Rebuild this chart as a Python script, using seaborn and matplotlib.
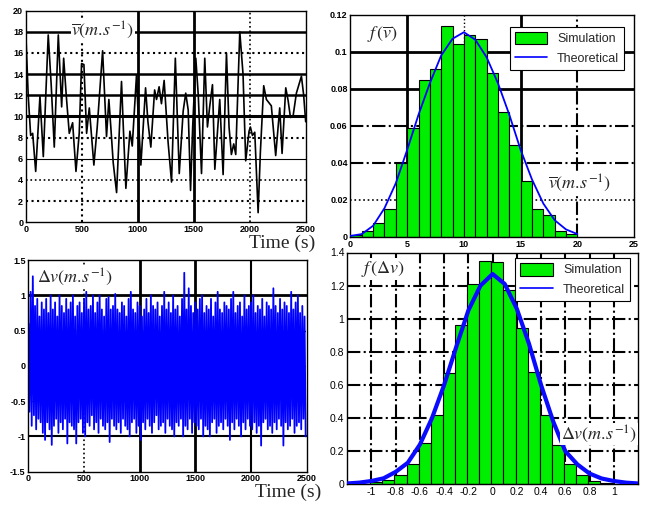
import numpy as np
import pandas as pd
import matplotlib
matplotlib.use("Agg")
import matplotlib.pyplot as plt
import seaborn as sns
from matplotlib.patches import Patch
from matplotlib.lines import Line2D

# mean wind speed time series
v_time = [0, 20, 42, 60, 87, 125, 155, 199, 225, 253, 289, 319, 337, 360, 387, 417,
          447, 476, 497, 518, 542, 566, 607, 637, 685, 720, 741, 759, 780, 810, 854,
          870, 893, 929, 950, 988, 1000, 1027, 1069, 1090, 1116, 1150, 1167, 1190, 1211,
          1235, 1270, 1301, 1335, 1370, 1405, 1428, 1450, 1471, 1490, 1518, 1540,
          1569, 1598, 1622, 1643, 1667, 1688, 1732, 1762, 1792, 1815, 1836, 1857, 1875,
          1911, 1940, 1964, 1994, 2006, 2024, 2045, 2075, 2095, 2125, 2149, 2193, 2232,
          2268, 2289, 2322, 2343, 2364, 2387, 2417, 2462, 2482, 2500]
v_mean = [17.5, 12.0, 8.2, 8.4, 4.8, 11.9, 6.2, 17.7, 13.1, 7.1, 17.7, 10.9, 15.5, 12.0,
          8.4, 9.4, 4.8, 8.4, 15.0, 14.9, 8.4, 10.8, 5.4, 9.0, 16.2, 8.1, 11.6, 8.9, 5.6,
          2.8, 13.3, 9.0, 3.2, 8.6, 7.2, 13.9, 10.8, 5.4, 12.7, 9.5, 7.1, 12.5, 11.6,
          12.8, 11.2, 13.4, 7.6, 3.8, 15.5, 4.6, 10.5, 12.2, 10.6, 3.0, 9.0, 15.5, 12.0,
          4.6, 15.5, 9.0, 11.0, 13.0, 5.0, 11.6, 4.5, 16.0, 9.0, 6.4, 7.4, 6.4, 18.0,
          14.0, 5.8, 8.6, 9.0, 8.2, 8.5, 0.9, 6.6, 12.9, 11.6, 11.0, 6.3, 10.8, 6.5,
          12.7, 11.5, 9.9, 10.0, 12.2, 13.8, 12.0, 9.5]

# turbulent component: upper and lower swings every 20 s
dv_upper = [0.6, 1.05, 1.27, 0.85, 0.95, 0.7, 0.9, 0.8, 0.95, 0.75,
            1.0, 0.8, 0.9, 0.7, 1.0, 0.85, 0.75, 0.95, 0.8, 0.9,
            1.0, 0.7, 0.85, 0.9, 0.75, 0.95, 1.05, 0.8, 0.85, 1.0,
            0.75, 0.9, 1.0, 0.8, 0.7, 0.95, 0.98, 0.8, 0.85, 1.02,
            0.8, 0.75, 0.9, 0.85, 0.7, 0.95, 1.05, 0.8, 0.75, 0.9,
            0.85, 0.7, 0.8, 0.95, 0.75, 1.0, 0.85, 0.8, 0.9, 0.7,
            0.85, 1.05, 0.8, 0.9, 0.75, 1.0, 0.8, 0.85, 0.7, 0.95,
            1.32, 0.8, 1.1, 0.85, 0.75, 0.9, 0.8, 0.95, 1.0, 0.75,
            0.85, 0.8, 0.95, 0.7, 0.9, 1.05, 0.8, 0.75, 0.9, 0.85,
            0.8, 0.95, 1.05, 0.75, 0.85, 0.9, 0.7, 1.0, 0.8, 0.85,
            0.9, 1.0, 0.75, 0.85, 0.8, 0.95, 0.7, 0.9, 0.85, 0.8,
            1.1, 0.85, 0.75, 0.95, 0.8, 0.9, 0.85, 0.75, 1.05, 0.8,
            0.9, 1.0, 0.75, 0.85, 0.7]
dv_lower = [-0.65, -0.85, -0.7, -0.9, -0.75, -0.8, -0.95, -1.05, -0.8, -0.9,
            -1.12, -0.85, -0.75, -0.95, -0.8, -0.9, -0.75, -1.1, -0.8, -0.85,
            -0.9, -1.1, -0.8, -0.75, -0.95, -1.0, -0.8, -0.85, -0.7, -0.9,
            -0.8, -0.95, -0.75, -0.85, -0.9, -0.8, -1.08, -0.75, -0.85, -0.9,
            -0.8, -0.95, -0.75, -0.85, -0.9, -1.0, -0.8, -0.75, -0.95, -0.85,
            -1.05, -0.8, -0.9, -0.75, -0.85, -0.95, -0.8, -0.7, -0.9, -0.85,
            -0.8, -0.95, -0.75, -0.85, -0.9, -1.0, -0.8, -0.85, -0.75, -1.0,
            -0.85, -0.9, -0.75, -0.95, -0.8, -0.85, -0.9, -0.75, -1.0, -0.85,
            -0.9, -1.0, -0.8, -0.75, -0.95, -0.85, -0.8, -0.9, -0.75, -0.85,
            -1.05, -0.8, -0.9, -0.75, -0.85, -1.0, -0.8, -0.9, -0.75, -0.85,
            -0.9, -0.8, -0.95, -0.85, -1.13, -0.8, -0.75, -0.9, -0.85, -0.95,
            -0.8, -0.9, -0.75, -0.85, -1.13, -0.8, -0.9, -0.85, -0.75, -0.95,
            -0.85, -0.8, -0.9, -0.75, -1.0]
dv_step = 10

# histogram of mean speed
vbar_edges = list(range(0, 21))
vbar_hist = [0.001, 0.003, 0.0077, 0.015, 0.040, 0.0587, 0.0847, 0.0908, 0.114, 0.104,
             0.1088, 0.107, 0.0883, 0.0674, 0.0494, 0.030, 0.0148, 0.012, 0.003, 0.0018]
vbar_theo_x = list(range(0, 21))
vbar_theo = [0.0005, 0.0015, 0.006, 0.0155, 0.029, 0.047, 0.066, 0.083, 0.098, 0.107,
             0.1105, 0.1065, 0.097, 0.083, 0.066, 0.047, 0.031, 0.018, 0.009, 0.004, 0.0015]

# histogram of turbulent component
dv_edges = [-1.11, -1.01, -0.91, -0.81, -0.71, -0.61, -0.51, -0.41, -0.31, -0.21, -0.11,
            -0.01, 0.09, 0.19, 0.29, 0.39, 0.49, 0.59, 0.69, 0.79, 0.89, 0.99]
dv_hist = [0.004, 0.012, 0.028, 0.055, 0.12, 0.25, 0.42, 0.67, 0.965, 1.21, 1.35,
           1.34, 1.175, 0.945, 0.68, 0.42, 0.24, 0.125, 0.055, 0.022, 0.006]
dv_theo_x = [-1.2, -1.1, -1.0, -0.9, -0.8, -0.7, -0.6, -0.5, -0.4, -0.3, -0.2, -0.1, 0.0,
             0.1, 0.2, 0.3, 0.4, 0.5, 0.6, 0.7, 0.8, 0.9, 1.0, 1.1, 1.2]
dv_theo = [0.005, 0.01, 0.02, 0.036, 0.075, 0.13, 0.24, 0.40, 0.6, 0.83, 1.05, 1.2, 1.27,
           1.21, 1.06, 0.85, 0.6, 0.38, 0.2, 0.12, 0.065, 0.035, 0.02, 0.01, 0.005]

sns.set_style("white")
plt.rcParams['font.family'] = ['Liberation Sans', 'DejaVu Sans']
plt.rcParams['mathtext.fontset'] = 'stix'

W, H = 649, 505
fig = plt.figure(figsize=(W / 100, H / 100), dpi=100)
ax_tl = fig.add_axes([0.040, 0.560, 0.431, 0.419])
ax_tr = fig.add_axes([0.540, 0.531, 0.437, 0.440])
ax_bl = fig.add_axes([0.0437, 0.066, 0.429, 0.419])
ax_br = fig.add_axes([0.535, 0.041, 0.448, 0.459])


def draw_grid(ax, vlines, hlines):
    for x, ls, lw in vlines:
        ax.axvline(x, color='black', ls=ls, lw=lw, zorder=0.5)
    for y, ls, lw in hlines:
        ax.axhline(y, color='black', ls=ls, lw=lw, zorder=0.5)


def style_axis(ax, size=6.5, weight='bold'):
    for s in ax.spines.values():
        s.set_color('black')
        s.set_linewidth(1)
    ax.tick_params(direction='in', length=3, labelsize=size, pad=2, colors='black')
    for lab in ax.get_xticklabels() + ax.get_yticklabels():
        lab.set_fontweight(weight)
    ax.set_xlabel('')
    ax.set_ylabel('')


def label(x, y, s, size=13, bg=True, va='center', **kw):
    box = dict(facecolor='white', edgecolor='none', pad=0.5) if bg else None
    fig.text(x / W, 1 - y / H, s, fontsize=size, ha='center', va=va, bbox=box, **kw)


# top left: mean speed series
sns.lineplot(x=v_time, y=v_mean, ax=ax_tl, color='black', lw=1.2, estimator=None, sort=False)
ax_tl.set_xlim(0, 2500)
ax_tl.set_ylim(0, 20)
ax_tl.set_xticks(range(0, 2501, 500))
ax_tl.set_yticks(range(0, 21, 2))
draw_grid(ax_tl,
          [(500, ':', 1.5), (1000, '-', 2), (1500, '-', 2), (2000, ':', 1.2)],
          [(2, ':', 1.5), (4, ':', 1.2), (6, '-', 0.8), (8, ':', 1.5), (10, '-', 2.2),
           (12, '-', 1.8), (14, '-', 1.8), (16, ':', 1.5), (18, '-', 1.8)])
style_axis(ax_tl)

# bottom left: turbulent component
dv = np.column_stack([dv_upper, dv_lower]).ravel()
dv_time = np.arange(len(dv)) * dv_step
sns.lineplot(x=dv_time, y=dv, ax=ax_bl, color='#0000ff', lw=1.3, estimator=None, sort=False, zorder=2)
ax_bl.set_xlim(0, 2500)
ax_bl.set_ylim(-1.5, 1.5)
ax_bl.set_xticks(range(0, 2501, 500))
ax_bl.set_yticks([-1.5, -1, -0.5, 0, 0.5, 1, 1.5])
ax_bl.set_yticklabels(['-1.5', '-1', '-0.5', '0', '0.5', '1', '1.5'])
draw_grid(ax_bl,
          [(500, ':', 1.2), (1000, '-', 2), (1500, '-', 2), (2000, '-', 1.5)],
          [(-1, '-', 1.5), (-0.5, ':', 1), (0, ':', 1), (0.5, ':', 1), (1, '-', 2)])
style_axis(ax_bl)

# top right: histogram of mean speed
green = '#00ee00'
vbar_centers = [e + 0.5 for e in vbar_edges[:-1]]
sns.histplot(x=vbar_centers, weights=vbar_hist, bins=vbar_edges, ax=ax_tr,
             color=green, edgecolor='black', linewidth=0.8, alpha=1, zorder=2)
sns.lineplot(x=vbar_theo_x, y=vbar_theo, ax=ax_tr, color='#0000ff', lw=1.3, zorder=3)
ax_tr.set_xlim(0, 25)
ax_tr.set_ylim(0, 0.12)
ax_tr.set_xticks(range(0, 26, 5))
ax_tr.set_yticks([0, 0.02, 0.04, 0.06, 0.08, 0.1, 0.12])
ax_tr.set_yticklabels(['0', '0.02', '0.04', '0.06', '0.08', '0.1', '0.12'])
draw_grid(ax_tr,
          [(5, '-', 2), (10, ':', 1), (15, '-', 2), (20, '-.', 1.5)],
          [(0.02, ':', 1.2), (0.04, '-.', 1.5), (0.06, '-.', 1.5), (0.08, '-', 2), (0.1, '-', 2)])
style_axis(ax_tr)

# bottom right: histogram of turbulent component
dv_centers = [(a + b) / 2 for a, b in zip(dv_edges[:-1], dv_edges[1:])]
sns.histplot(x=dv_centers, weights=dv_hist, bins=dv_edges, ax=ax_br,
             color=green, edgecolor='black', linewidth=0.8, alpha=1, zorder=2)
sns.lineplot(x=dv_theo_x, y=dv_theo, ax=ax_br, color='#0a0aff', lw=3, zorder=3)
ax_br.set_xlim(-1.2, 1.2)
ax_br.set_ylim(0, 1.4)
xt = [-1, -0.8, -0.6, -0.4, -0.2, 0, 0.2, 0.4, 0.6, 0.8, 1]
ax_br.set_xticks(xt)
ax_br.set_xticklabels(['-1', '-0.8', '-0.6', '-0.4', '-0.2', '0', '0.2', '0.4', '0.6', '0.8', '1'])
yt = [0, 0.2, 0.4, 0.6, 0.8, 1, 1.2, 1.4]
ax_br.set_yticks(yt)
ax_br.set_yticklabels(['0', '0.2', '0.4', '0.6', '0.8', '1', '1.2', '1.4'])
draw_grid(ax_br, [(x, '-.', 1.5) for x in xt], [(y, '-.', 1.5) for y in yt[1:-1]])
style_axis(ax_br, size=7.5, weight='normal')

# legends
handles = [Patch(facecolor=green, edgecolor='black', linewidth=0.8),
           Line2D([], [], color='#0000ff', lw=1.2)]
for ax, anchor in [(ax_tr, (0.965, 0.946)), (ax_br, (0.973, 0.977))]:
    leg = ax.legend(handles, ['Simulation', 'Theoretical'], loc='upper right',
                    bbox_to_anchor=anchor, borderaxespad=0, fancybox=False,
                    edgecolor='black', framealpha=1, fontsize=9,
                    handlelength=2.6, handleheight=1.2)
    leg.get_frame().set_linewidth(0.8)
    leg.set_zorder(5)

# annotations
label(103, 30, r'$\overline{v}(m.\!s^{-1})$')
label(75, 277, r'$\Delta v(m.\!s^{-1})$')
label(383, 35, r'$f\,(\overline{v})$')
label(580, 183, r'$\overline{v}(m.\!s^{-1})$')
label(383, 269, r'$f\,(\Delta v)$')
label(599, 434, r'$\Delta v(m.\!s^{-1})$')
label(282, 235, 'Time (s)', size=14, bg=False, va='top', family='Liberation Serif')
label(288, 484, 'Time (s)', size=14, bg=False, va='top', family='Liberation Serif')

fig.savefig('out.png', dpi=100)
